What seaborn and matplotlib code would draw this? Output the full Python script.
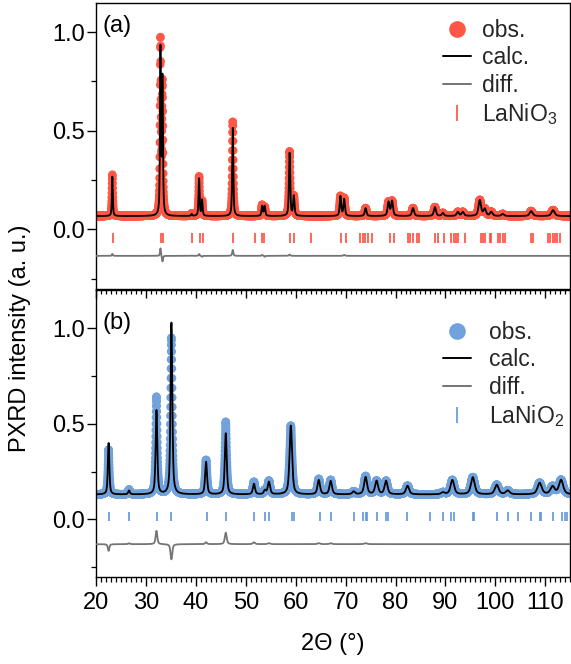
import numpy as np
import pandas as pd
import matplotlib
matplotlib.use("Agg")
import matplotlib.pyplot as plt
from matplotlib.lines import Line2D
from matplotlib.ticker import MultipleLocator, FormatStrFormatter
import seaborn as sns

# ---------------- LaNiO3 (panel a) ----------------
a_peak_pos = [23.2, 32.85, 33.25, 39.1, 40.6, 41.2, 47.35, 53.25, 53.75, 58.75, 59.6,
              68.95, 69.7, 74.0, 78.6, 79.3, 83.5, 87.9, 89.5, 92.5, 93.5, 96.9, 97.9,
              99.2, 101.5, 107.2, 111.6]
a_peak_obs = [0.21, 0.88, 0.66, 0.012, 0.20, 0.075, 0.48, 0.055, 0.045, 0.327, 0.10,
              0.10, 0.09, 0.04, 0.07, 0.075, 0.04, 0.045, 0.015, 0.02, 0.02, 0.08, 0.035,
              0.02, 0.01, 0.025, 0.03]
a_peak_calc = [0.20, 0.84, 0.69, 0.010, 0.19, 0.08, 0.45, 0.05, 0.05, 0.32, 0.10,
               0.10, 0.085, 0.04, 0.07, 0.075, 0.04, 0.045, 0.015, 0.02, 0.02, 0.08, 0.035,
               0.02, 0.01, 0.025, 0.03]
a_peak_fwhm = [0.22, 0.22, 0.24, 0.25, 0.25, 0.25, 0.26, 0.3, 0.3, 0.3, 0.32,
               0.35, 0.35, 0.4, 0.45, 0.45, 0.5, 0.5, 0.5, 0.55, 0.55, 0.6, 0.6,
               0.6, 0.6, 0.7, 0.75]
a_background = 0.067
a_reflections = [23.3, 32.9, 33.3, 39.1, 40.8, 41.3, 47.5, 51.8, 53.3, 53.7, 58.9, 59.7,
                 63.0, 69.0, 70.0, 72.9, 73.4, 73.9, 74.4, 75.3, 78.9, 79.7, 82.5,
                 82.9, 83.5, 84.4, 84.8, 88.0, 88.5, 89.7, 91.2, 91.7, 92.1, 92.5, 93.9,
                 97.1, 97.5, 97.9, 98.9, 99.2, 100.6, 101.0, 101.6, 102.0, 107.1, 107.5,
                 110.6, 111.0, 111.5, 111.9, 112.4, 112.9]

# ---------------- LaNiO2 (panel b) ----------------
b_peak_pos = [22.45, 26.55, 32.05, 35.05, 42.0, 45.95, 51.6, 53.8, 54.6, 59.0, 64.6,
              67.0, 71.6, 74.0, 76.2, 78.1, 82.4, 89.5, 91.4, 95.5, 100.3, 102.5,
              108.9, 111.5, 113.2]
b_peak_obs = [0.235, 0.025, 0.51, 0.82, 0.18, 0.38, 0.065, 0.02, 0.07, 0.36, 0.08,
              0.075, 0.015, 0.095, 0.07, 0.07, 0.045, 0.01, 0.075, 0.09, 0.05, 0.02,
              0.06, 0.04, 0.075]
b_peak_calc = [0.27, 0.02, 0.44, 0.90, 0.17, 0.32, 0.055, 0.02, 0.065, 0.36, 0.075,
               0.07, 0.015, 0.09, 0.07, 0.07, 0.045, 0.01, 0.075, 0.09, 0.05, 0.02,
               0.06, 0.04, 0.075]
b_peak_fwhm = [0.35, 0.4, 0.4, 0.42, 0.45, 0.45, 0.5, 0.5, 0.55, 0.6, 0.6,
               0.6, 0.65, 0.7, 0.7, 0.7, 0.75, 0.8, 0.85, 0.9, 0.9, 0.9,
               1.0, 1.0, 1.0]
b_background = 0.13
b_reflections = [22.6, 26.5, 32.1, 35.0, 42.1, 46.0, 51.7, 53.8, 54.6, 59.2, 59.7,
                 64.8, 67.0, 71.7, 73.5, 74.0, 74.3, 76.2, 78.0, 78.5, 82.4, 86.9,
                 89.5, 91.2, 91.7, 95.5, 95.8, 100.4, 102.5, 104.5, 107.1, 108.9,
                 109.2, 111.6, 113.4, 113.9, 114.4]

x_ticks = [20, 30, 40, 50, 60, 70, 80, 90, 100, 110]
y_ticks = [0.0, 0.5, 1.0]

two_theta = np.arange(20.0, 115.0, 0.02)


def pattern(x, pos, amp, fwhm, bg, eta=0.6):
    """Pseudo-Voigt peaks on a flat background."""
    y = np.full_like(x, bg)
    for p, a, w in zip(pos, amp, fwhm):
        u = (x - p) / (w / 2.0)
        y += a * (eta / (1.0 + u ** 2) + (1.0 - eta) * np.exp(-np.log(2.0) * u ** 2))
    return y


def build_frame(pos, obs, calc, fwhm, bg, diff_offset):
    y_obs = pattern(two_theta, pos, obs, fwhm, bg)
    y_calc = pattern(two_theta, pos, calc, fwhm, bg)
    return pd.DataFrame({"two_theta": two_theta, "obs": y_obs, "calc": y_calc,
                         "diff": y_obs - y_calc + diff_offset})


df_a = build_frame(a_peak_pos, a_peak_obs, a_peak_calc, a_peak_fwhm, a_background, -0.135)
df_b = build_frame(b_peak_pos, b_peak_obs, b_peak_calc, b_peak_fwhm, b_background, -0.13)

sns.set_theme(style="ticks")
plt.rcParams["font.family"] = ["Liberation Sans", "DejaVu Sans"]
plt.rcParams["mathtext.fontset"] = "custom"
plt.rcParams["mathtext.rm"] = "Liberation Sans"
plt.rcParams["mathtext.default"] = "regular"

RED = "#ff5646"
RED_TICK = "#ff4d3d"
BLUE = "#71a2dc"
BLUE_TICK = "#5f96da"
GRAY = "#747474"
FS = 17

fig = plt.figure(figsize=(5.71, 6.64), dpi=100)
fig.patch.set_facecolor("white")
ax_a = fig.add_axes([0.1688, 0.5648, 0.8295, 0.4307])
ax_b = fig.add_axes([0.1688, 0.1310, 0.8295, 0.4322])
ax_b.patch.set_visible(False)


def draw_panel(ax, df, color, tick_color, refl, refl_y, ylim, tag, phase, textpad):
    sns.scatterplot(data=df, x="two_theta", y="obs", ax=ax, color=color, s=37,
                    edgecolor="none", linewidth=0, legend=False, zorder=2)
    sns.lineplot(data=df, x="two_theta", y="calc", ax=ax, color="black", lw=1.3,
                 estimator=None, zorder=3)
    sns.lineplot(data=df, x="two_theta", y="diff", ax=ax, color=GRAY, lw=1.3,
                 estimator=None, zorder=3)
    ax.vlines(refl, refl_y[0], refl_y[1], colors=tick_color, lw=1.2, zorder=2)

    ax.set_xlim(20, 115)
    ax.set_ylim(*ylim)
    ax.set_xticks(x_ticks)
    ax.xaxis.set_minor_locator(MultipleLocator(1))
    ax.set_yticks(y_ticks)
    ax.yaxis.set_minor_locator(MultipleLocator(0.25))
    ax.yaxis.set_major_formatter(FormatStrFormatter("%.1f"))
    ax.tick_params(axis="both", which="major", direction="out", length=6.5, width=1.0,
                   labelsize=FS, color="black", labelcolor="black")
    ax.tick_params(axis="both", which="minor", direction="out", length=3.3, width=0.9,
                   color="black")
    ax.tick_params(axis="y", which="major", pad=1.5)
    ax.tick_params(axis="x", which="major", pad=4)
    ax.tick_params(top=False, right=False, which="both")
    for side in ["left", "right", "top", "bottom"]:
        ax.spines[side].set_visible(True)
        ax.spines[side].set_linewidth(1.0)
        ax.spines[side].set_color("black")
    ax.set_xlabel("")
    ax.set_ylabel("")

    ax.text(21.3, 1.085, tag, fontsize=FS, va="top", ha="left", color="black")

    handles = [
        Line2D([], [], marker="o", ls="none", color=color, ms=12, mec="none"),
        Line2D([], [], color="black", lw=1.4),
        Line2D([], [], color=GRAY, lw=1.4),
        Line2D([], [], marker="|", ls="none", color=tick_color, ms=12, mew=1.2),
    ]
    labels = ["obs.", "calc.", "diff.", phase]
    return handles, labels


h_a, l_a = draw_panel(ax_a, df_a, RED, RED_TICK, a_reflections, (-0.07, -0.02),
                      (-0.303, 1.148), "(a)", "LaNiO$_3$", 0.5)
h_b, l_b = draw_panel(ax_b, df_b, BLUE, BLUE_TICK, b_reflections, (-0.01, 0.037),
                      (-0.302, 1.20), "(b)", "LaNiO$_2$", 0.8)

ax_a.tick_params(axis="x", labelbottom=False)

ax_a.legend(h_a, l_a, loc="upper left", bbox_to_anchor=(0.732, 0.945), frameon=False,
            fontsize=16.5, handlelength=1.2, handletextpad=0.5, labelspacing=0.2,
            borderpad=0, borderaxespad=0)
ax_b.legend(h_b, l_b, loc="upper left", bbox_to_anchor=(0.732, 0.893), frameon=False,
            fontsize=16.5, handlelength=1.2, handletextpad=0.8, labelspacing=0.2,
            borderpad=0, borderaxespad=0)

ax_b.set_xlabel("2\u0398 (\u00b0)", fontsize=FS, labelpad=14, color="black")
fig.text(0.035, 0.491, "PXRD intensity (a. u.)", rotation=90, fontsize=FS,
         ha="center", va="center", color="black")

fig.savefig("out.png", dpi=100, facecolor="white")
